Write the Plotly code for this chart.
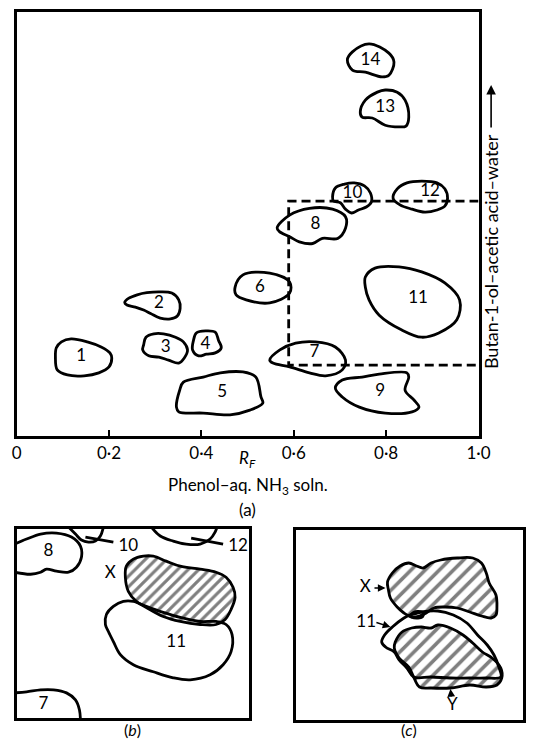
import plotly.graph_objects as go

# ---------------- data ----------------
RF_TICKS = [0, 0.2, 0.4, 0.6, 0.8, 1.0]
RF_TICK_TEXT = ["0", "0·2", "0·4", "0·6", "0·8", "1·0"]

# spot numbers and label centres (x: phenol Rf, y: butanol Rf)
SPOT_IDS = ["1", "2", "3", "4", "5", "6", "7", "8", "9", "10", "11", "12", "13", "14"]
SPOT_X = [0.140, 0.308, 0.323, 0.409, 0.445, 0.527, 0.645, 0.647, 0.787, 0.727, 0.869, 0.895, 0.798, 0.766]
SPOT_Y = [0.186, 0.311, 0.208, 0.215, 0.101, 0.349, 0.196, 0.498, 0.104, 0.571, 0.323, 0.575, 0.774, 0.884]

# spot outlines, (phenol Rf, butanol Rf)
SPOT_1 = [(0.084, 0.186), (0.086, 0.208), (0.097, 0.222), (0.118, 0.229), (0.153, 0.222), (0.183, 0.210),
          (0.202, 0.196), (0.206, 0.184), (0.200, 0.163), (0.178, 0.149), (0.146, 0.142), (0.110, 0.144),
          (0.088, 0.156)]
SPOT_2 = [(0.234, 0.315), (0.243, 0.325), (0.261, 0.333), (0.282, 0.338), (0.311, 0.340), (0.336, 0.337),
          (0.351, 0.321), (0.354, 0.301), (0.348, 0.283), (0.333, 0.276), (0.311, 0.278), (0.290, 0.289),
          (0.275, 0.297), (0.257, 0.304), (0.239, 0.309)]
SPOT_3 = [(0.275, 0.215), (0.280, 0.233), (0.297, 0.241), (0.318, 0.241), (0.344, 0.233), (0.361, 0.222),
          (0.370, 0.203), (0.363, 0.184), (0.351, 0.172), (0.329, 0.179), (0.308, 0.186), (0.286, 0.189),
          (0.273, 0.203)]
SPOT_4 = [(0.381, 0.203), (0.383, 0.226), (0.389, 0.243), (0.409, 0.248), (0.430, 0.245), (0.437, 0.226),
          (0.443, 0.208), (0.430, 0.196), (0.411, 0.193), (0.394, 0.189)]
SPOT_5 = [(0.346, 0.068), (0.353, 0.108), (0.361, 0.127), (0.404, 0.139), (0.441, 0.149), (0.490, 0.151),
          (0.518, 0.139), (0.529, 0.092), (0.533, 0.078), (0.505, 0.061), (0.462, 0.050), (0.404, 0.054),
          (0.351, 0.057)]
SPOT_6 = [(0.473, 0.351), (0.490, 0.380), (0.548, 0.384), (0.591, 0.363), (0.591, 0.337), (0.548, 0.314),
          (0.497, 0.321), (0.475, 0.333)]
SPOT_7 = [(0.548, 0.179), (0.570, 0.203), (0.604, 0.219), (0.647, 0.222), (0.690, 0.210), (0.712, 0.179),
          (0.705, 0.156), (0.669, 0.142), (0.634, 0.149), (0.591, 0.163), (0.555, 0.172)]
SPOT_8 = [(0.564, 0.491), (0.591, 0.521), (0.634, 0.537), (0.684, 0.535), (0.712, 0.517), (0.712, 0.490),
          (0.695, 0.466), (0.662, 0.466), (0.641, 0.454), (0.612, 0.458), (0.591, 0.470), (0.569, 0.482)]
SPOT_9 = [(0.690, 0.113), (0.705, 0.132), (0.748, 0.139), (0.785, 0.146), (0.845, 0.149), (0.849, 0.139),
          (0.841, 0.108), (0.860, 0.085), (0.871, 0.068), (0.856, 0.057), (0.798, 0.054), (0.742, 0.068),
          (0.705, 0.092)]
SPOT_10 = [(0.684, 0.564), (0.690, 0.585), (0.710, 0.594), (0.731, 0.597), (0.753, 0.590), (0.766, 0.573),
           (0.768, 0.552), (0.757, 0.540), (0.740, 0.533), (0.725, 0.526), (0.712, 0.535), (0.701, 0.550),
           (0.686, 0.554)]
SPOT_11 = [(0.755, 0.375), (0.776, 0.396), (0.828, 0.399), (0.877, 0.387), (0.927, 0.361), (0.959, 0.321),
           (0.953, 0.274), (0.914, 0.243), (0.877, 0.233), (0.834, 0.250), (0.785, 0.285), (0.763, 0.321),
           (0.755, 0.351)]
SPOT_12 = [(0.815, 0.561), (0.824, 0.583), (0.845, 0.597), (0.877, 0.601), (0.910, 0.597), (0.927, 0.583),
           (0.933, 0.561), (0.927, 0.542), (0.910, 0.533), (0.884, 0.528), (0.856, 0.535), (0.830, 0.545)]
SPOT_13 = [(0.744, 0.764), (0.755, 0.792), (0.781, 0.811), (0.798, 0.816), (0.824, 0.811), (0.841, 0.792),
           (0.849, 0.752), (0.843, 0.731), (0.828, 0.729), (0.798, 0.733), (0.770, 0.750), (0.748, 0.752)]
SPOT_14 = [(0.716, 0.887), (0.727, 0.906), (0.763, 0.925), (0.806, 0.903), (0.817, 0.882), (0.806, 0.851),
           (0.791, 0.847), (0.755, 0.858), (0.727, 0.863)]
SPOT_OUTLINES = [SPOT_1, SPOT_2, SPOT_3, SPOT_4, SPOT_5, SPOT_6, SPOT_7,
                 SPOT_8, SPOT_9, SPOT_10, SPOT_11, SPOT_12, SPOT_13, SPOT_14]

# dashed region enlarged in (b) and (c)
BOX_X = [0.589, 1.0]
BOX_Y = [0.167, 0.554]

# ---- panel (b): enlargement, local drawing units ----
B_SPOT8 = [(11, 545), (23, 540), (37, 535), (53, 534), (68, 538), (77, 547), (78, 558), (73, 568), (65, 573),
           (53, 572), (43, 570), (37, 573), (27, 575), (11, 573)]
B_SPOT10 = [(65, 528), (72, 535), (78, 541), (85, 543), (92, 542), (97, 537), (100, 528)]
B_SPOT12 = [(148, 528), (157, 537), (170, 542), (183, 545), (197, 545), (207, 540), (212, 533), (214, 528)]
B_SPOT7 = [(11, 693), (23, 692), (37, 690), (50, 690), (63, 693), (72, 700), (76, 710), (77, 722)]
B_LEADER10 = [(82, 538), (110, 543)]
B_LEADER12 = [(188, 539), (220, 545)]
B_X = [(122, 578), (123, 567), (130, 560), (140, 557), (150, 557), (163, 562), (177, 567), (197, 570),
       (213, 573), (223, 578), (230, 588), (232, 598), (228, 610), (222, 620), (213, 625), (197, 625),
       (177, 622), (160, 617), (143, 608), (133, 602), (125, 592)]
B_11 = [(102, 625), (103, 615), (110, 607), (120, 602), (130, 602), (143, 607), (160, 613), (177, 618),
        (197, 622), (213, 622), (223, 625), (229, 635), (228, 652), (220, 665), (207, 675), (187, 680),
        (170, 678), (150, 672), (130, 665), (117, 655), (110, 642), (105, 632)]
B_LABELS = ["8", "10", "12", "X", "11", "7"]
B_LABEL_X = [45, 125, 235, 107, 173, 40]
B_LABEL_Y = [553, 548, 548, 575, 643, 705]

# ---- panel (c): local drawing units ----
C_X = [(395, 582), (400, 573), (408, 566), (417, 563), (425, 566), (432, 568), (440, 563), (450, 560),
       (467, 558), (483, 558), (492, 563), (497, 573), (500, 583), (507, 595), (508, 607), (507, 615),
       (502, 618), (492, 616), (480, 612), (467, 608), (453, 607), (443, 608), (435, 613), (428, 616),
       (420, 617), (412, 613), (405, 607), (398, 598), (396, 590)]
C_Y = [(403, 642), (410, 632), (420, 628), (430, 627), (440, 628), (447, 625), (460, 628), (473, 635),
       (483, 643), (493, 652), (503, 658), (512, 668), (513, 678), (508, 685), (497, 687), (480, 685),
       (460, 688), (440, 688), (428, 687), (422, 677), (417, 667), (407, 658), (402, 648)]
C_11 = [(423, 614), (430, 612), (447, 611), (463, 615), (477, 623), (488, 635), (498, 645), (505, 655),
        (510, 667), (512, 677), (497, 678), (480, 678), (460, 678), (440, 677), (422, 677), (415, 668),
        (407, 660), (402, 652), (393, 647), (389, 642), (392, 635), (400, 627), (412, 618), (418, 615)]
C_BUBBLE = [(419, 616), (422, 612.5), (427, 611.5), (432, 613), (431, 617), (425, 618)]
C_LABELS = ["X", "11", "Y"]
C_LABEL_X = [372, 373, 462]
C_LABEL_Y = [588, 623, 706]
C_ARROW_TAIL = [(380, 588), (382, 622), (461, 698)]
C_ARROW_HEAD = [(393, 588), (398, 627), (460, 689)]

# ---------------- figure ----------------
W, H = 537, 742
FONT = "Lato"
INK = "black"
LW = 2.8
TXT = 17


def px_dom(a, b, total):
    return [a / total, b / total]


def py_dom(top, bottom):
    return [1 - bottom / H, 1 - top / H]


def outline(points, xa, ya, closed=True, hatch=None, solidity=0.33):
    xs = [p[0] for p in points]
    ys = [p[1] for p in points]
    if closed:
        xs.append(xs[0])
        ys.append(ys[0])
    kw = {}
    if hatch is not None:
        kw = dict(fill="toself", fillcolor="rgba(0,0,0,0)",
                  fillpattern=dict(shape="/", fgcolor=INK, bgcolor="rgba(0,0,0,0)",
                                   size=hatch, solidity=solidity))
    return go.Scatter(x=xs, y=ys, mode="lines", xaxis=xa, yaxis=ya,
                      line=dict(color=INK, width=LW, shape="spline", smoothing=1.0),
                      hoverinfo="skip", showlegend=False, **kw)


fig = go.Figure()

# (a) main chromatogram
for pts in SPOT_OUTLINES:
    fig.add_trace(outline(pts, "x", "y"))
fig.add_trace(go.Scatter(
    x=[BOX_X[1], BOX_X[0], BOX_X[0], BOX_X[1]],
    y=[BOX_Y[1], BOX_Y[1], BOX_Y[0], BOX_Y[0]],
    mode="lines", line=dict(color=INK, width=LW, dash="9px,5px"),
    hoverinfo="skip", showlegend=False))
fig.add_trace(go.Scatter(x=SPOT_X, y=SPOT_Y, text=SPOT_IDS, mode="text",
                         textfont=dict(family=FONT, size=TXT, color=INK),
                         hoverinfo="skip", showlegend=False))

# (b)
for pts in [B_SPOT8, B_SPOT10, B_SPOT12, B_SPOT7, B_LEADER10, B_LEADER12]:
    fig.add_trace(outline(pts, "x2", "y2", closed=False))
fig.add_trace(outline(B_X, "x2", "y2", hatch=7.5, solidity=0.42))
fig.add_trace(outline(B_11, "x2", "y2"))
fig.add_trace(go.Scatter(x=B_LABEL_X, y=B_LABEL_Y, text=B_LABELS, mode="text",
                         xaxis="x2", yaxis="y2",
                         textfont=dict(family=FONT, size=TXT, color=INK),
                         hoverinfo="skip", showlegend=False))

# (c)
fig.add_trace(outline(C_X, "x3", "y3", hatch=10, solidity=0.36))
fig.add_trace(outline(C_Y, "x3", "y3", hatch=10, solidity=0.36))
fig.add_trace(outline(C_11, "x3", "y3"))
fig.add_trace(outline(C_BUBBLE, "x3", "y3"))
fig.add_trace(go.Scatter(x=C_LABEL_X, y=C_LABEL_Y, text=C_LABELS, mode="text",
                         xaxis="x3", yaxis="y3",
                         textfont=dict(family=FONT, size=TXT, color=INK),
                         hoverinfo="skip", showlegend=False))

annotations = []
for (tx, ty), (hx, hy) in zip(C_ARROW_TAIL, C_ARROW_HEAD):
    annotations.append(dict(x=hx, y=hy, ax=tx, ay=ty, xref="x3", yref="y3", axref="x3", ayref="y3",
                            text="", showarrow=True, arrowhead=2, arrowsize=1.1, arrowwidth=1.4,
                            arrowcolor=INK))

# axis titles of (a)
annotations += [
    dict(x=0.5, y=py_dom(459, 459)[0], xref="x", yref="paper", showarrow=False,
         xanchor="center", yanchor="middle",
         text="<i>R</i><sub><i>F</i></sub>", font=dict(family=FONT, size=TXT, color=INK)),
    dict(x=0.5, y=py_dom(486, 486)[0], xref="x", yref="paper", showarrow=False,
         xanchor="center", yanchor="middle",
         text="Phenol–aq. NH<sub>3</sub> soln.", font=dict(family=FONT, size=TXT, color=INK)),
    dict(x=0.5, y=py_dom(509, 509)[0], xref="x", yref="paper", showarrow=False,
         xanchor="center", yanchor="middle",
         text="(a)", font=dict(family=FONT, size=TXT, color=INK)),
    dict(x=502 / W, y=py_dom(252, 252)[0], xref="paper", yref="paper", showarrow=False,
         xanchor="center", yanchor="middle",
         text="Butan-1-ol–acetic acid–water", textangle=-90,
         font=dict(family=FONT, size=18, color=INK)),
    dict(x=502 / W, y=py_dom(85, 85)[0], ax=0, ay=44,
         xref="paper", yref="paper",
         text="", showarrow=True, arrowhead=2, arrowsize=1.2, arrowwidth=1.6, arrowcolor=INK),
    dict(x=0.5, y=py_dom(741, 741)[0], xref="x2 domain", yref="paper", showarrow=False,
         xanchor="center", yanchor="bottom",
         text="(<i>b</i>)", font=dict(family=FONT, size=16, color=INK)),
    dict(x=0.5, y=py_dom(741, 741)[0], xref="x3 domain", yref="paper", showarrow=False,
         xanchor="center", yanchor="bottom",
         text="(<i>c</i>)", font=dict(family=FONT, size=16, color=INK)),
]

frame = dict(showline=True, linecolor=INK, linewidth=3, mirror=True, showgrid=False, zeroline=False)

fig.update_layout(
    width=W, height=H, autosize=False,
    margin=dict(l=0, r=0, t=0, b=0),
    paper_bgcolor="white", plot_bgcolor="white",
    font=dict(family=FONT, color=INK),
    showlegend=False,
    xaxis=dict(domain=px_dom(12, 489, W), range=[0, 1], anchor="y",
               tickvals=RF_TICKS, ticktext=RF_TICK_TEXT,
               ticks="inside", ticklen=6, tickwidth=2, tickcolor=INK,
               tickfont=dict(family=FONT, size=TXT, color=INK), **frame),
    yaxis=dict(domain=py_dom(12, 436), range=[0, 1], anchor="x",
               showticklabels=False, ticks="", **frame),
    xaxis2=dict(domain=px_dom(12, 252, W), range=[13, 246], anchor="y2",
                showticklabels=False, ticks="", **frame),
    yaxis2=dict(domain=py_dom(529, 718), range=[718, 530], anchor="x2",
                showticklabels=False, ticks="", **frame),
    xaxis3=dict(domain=px_dom(300, 535, W), range=[300, 535], anchor="y3",
                showticklabels=False, ticks="", **frame),
    yaxis3=dict(domain=py_dom(530, 720), range=[720, 530], anchor="x3",
                showticklabels=False, ticks="", **frame),
    annotations=annotations,
)

# the page itself must not add a margin around the 537x742 figure
fig.write_html("out.html",
               config={"displayModeBar": False, "staticPlot": True},
               post_script="document.body.style.margin='0';document.body.style.padding='0';"
                           "document.documentElement.style.overflow='hidden';")
